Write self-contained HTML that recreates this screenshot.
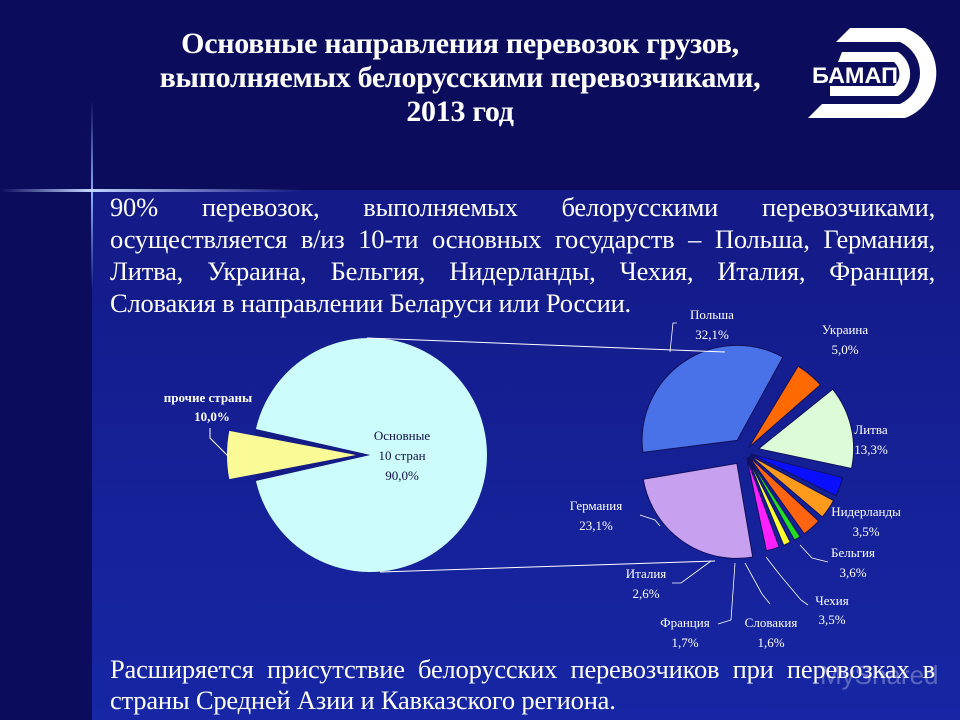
<!DOCTYPE html>
<html><head><meta charset="utf-8">
<style>
html,body{margin:0;padding:0;width:960px;height:720px;overflow:hidden;}
body{background:#0b0c5c;font-family:"Liberation Serif",serif;color:#fff;position:relative;}
#bg-lower{position:absolute;left:92px;top:190px;width:868px;height:530px;background:linear-gradient(180deg,#141a86 0%,#1626a4 100%);}
#bg-left{position:absolute;left:0;top:190px;width:92px;height:530px;background:#0b0c5c;}
.title{position:absolute;left:40px;width:840px;top:27px;text-align:center;font-weight:bold;font-size:30px;line-height:34px;letter-spacing:-0.3px;}
.para{position:absolute;left:110px;width:825px;font-size:26.5px;line-height:32px;letter-spacing:-0.2px;}
.jl{text-align:justify;text-align-last:justify;white-space:nowrap;display:block;}
.jl.last{text-align-last:left;}
svg{position:absolute;left:0;top:0;}
</style></head><body>
<div id="bg-lower"></div>
<div id="bg-left"></div>
<div style="position:absolute;left:91px;top:100px;width:2px;height:190px;background:linear-gradient(180deg,rgba(90,130,255,0),#8ab0ff 50%,rgba(90,130,255,0));"></div>
<div style="position:absolute;left:0;top:189px;width:300px;height:3px;background:linear-gradient(90deg,rgba(90,130,255,0),#c0d4ff 30%,rgba(90,130,255,0));"></div>
<div class="title">Основные направления перевозок грузов,<br>выполняемых белорусскими перевозчиками,<br>2013 год</div>
<div class="para" style="top:191px;">
<span class="jl">90% перевозок, выполняемых белорусскими перевозчиками,</span>
<span class="jl">осуществляется в/из 10-ти основных государств – Польша, Германия,</span>
<span class="jl">Литва, Украина, Бельгия, Нидерланды, Чехия, Италия, Франция,</span>
<span class="jl last">Словакия в направлении Беларуси или России.</span>
</div>
<div class="para" style="top:654px;line-height:31px;">
<span class="jl">Расширяется присутствие белорусских перевозчиков при перевозках в</span>
<span class="jl last">страны Средней Азии и Кавказского региона.</span>
</div>

<svg width="960" height="720" id="chart">
  <g id="logo">
    <path d="M850 28 L905 28 A48 48 0 0 1 905 118 L808 118 L822 104 L900 104 A34 34 0 0 0 900 42 L836 42 Z" fill="#fff"/>
    <path d="M842 52 L898 52 A26 26 0 0 1 898 96 L830 96 L830 86 L894 86 A16 16 0 0 0 894 62 L838 62 Z" fill="#fff"/>
    <text x="812" y="83" font-family="Liberation Sans,sans-serif" font-weight="bold" font-size="22" fill="#fff" textLength="86" lengthAdjust="spacingAndGlyphs">БАМАП</text>
  </g>
  <g id="left-pie"></g>
  <g id="right-pie"></g>
  <line x1="367" y1="338" x2="725" y2="352" stroke="#fff" stroke-width="1"/>
  <line x1="380" y1="572" x2="715" y2="561" stroke="#fff" stroke-width="1"/>
  <g stroke="#fff" fill="none" stroke-width="0.8">
    <polyline points="677,323 673,323 670,352"/>
    <polyline points="640,515 655,520 660,526"/>
    <polyline points="800,545 812,558 828,562"/>
    <polyline points="766,557 780,575 801,600 808,605"/>
    <polyline points="745,563 762,594 770,604"/>
    <polyline points="735,563 731,620 718,624"/>
    <polyline points="711,561 681,583 672,583"/>
  </g>
</svg>
<div style="position:absolute;left:820px;top:660px;font-family:'Liberation Sans',sans-serif;font-size:26px;color:rgba(255,255,255,0.3);">MyShared</div>

<script>
const leftLabels = ["Основные 10 стран","прочие страны"];
const leftValues = [90.0, 10.0];
const rightLabels = ["Украина","Литва","Нидерланды","Бельгия","Чехия","Словакия","Франция","Италия","Германия","Польша"];
const rightValues = [5.0,13.3,3.5,3.6,3.5,1.6,1.7,2.6,23.1,32.1];
const rightColors = ["#ff6a00","#dcfcd8","#0a10ff","#ff9a1c","#ff6410","#22dd22","#ffff30","#ff20ff","#c8a0f0","#4a72e8"];
const NS="http://www.w3.org/2000/svg";
function pt(cx,cy,r,deg){const a=(deg-90)*Math.PI/180;return [cx+r*Math.cos(a),cy+r*Math.sin(a)];}
function wedge(cx,cy,r,a0,a1){const p0=pt(cx,cy,r,a0),p1=pt(cx,cy,r,a1);const large=(a1-a0)>180?1:0;
 return `M${cx},${cy} L${p0[0]},${p0[1]} A${r},${r} 0 ${large} 1 ${p1[0]},${p1[1]} Z`;}
function txt(g,x,y,s,size,bold,fill){const t=document.createElementNS(NS,'text');t.setAttribute('x',x);t.setAttribute('y',y);
 t.setAttribute('font-size',size);t.setAttribute('fill',fill||'#fff');t.setAttribute('text-anchor','middle');
 t.setAttribute('font-family','Liberation Serif,serif');if(bold)t.setAttribute('font-weight','bold');t.textContent=s;
 
 
 g.appendChild(t);return t;}
function pct(v){return v.toFixed(1).replace('.',',')+"%";}
// left pie
(function(){const g=document.getElementById('left-pie');const cx=370,cy=455,r=117;
 const tot=leftValues.reduce((a,b)=>a+b,0);
 const otherAng=leftValues[1]/tot*360*0.6;
 const a0=270-otherAng/2, a1=270+otherAng/2;
 const main=document.createElementNS(NS,'path');main.setAttribute('d',wedge(cx,cy,r,a1+2,a0-2+360));main.setAttribute('fill','#ccfcfc');
 
 
 g.appendChild(main);
 const cut=document.createElementNS(NS,'path');cut.setAttribute('d',wedge(cx,cy,r,a0-2,a1+2));cut.setAttribute('fill','#141a86');g.appendChild(cut);
 const ox=cx-14;const oth=document.createElementNS(NS,'path');oth.setAttribute('d',wedge(ox,cy,r+12,a0,a1));oth.setAttribute('fill','#fafa96');
 
 
 g.appendChild(oth);
 txt(g,402,440,"Основные",13,false,'#10104a');txt(g,402,460,"10 стран",13,false,'#10104a');txt(g,402,480,pct(leftValues[0]),13,false,'#10104a');
 txt(g,208,402,leftLabels[1],13,true);txt(g,212,421,pct(leftValues[1]),13,true);
 const l=document.createElementNS(NS,'polyline');l.setAttribute('points','210,428 210,438 228,456');l.setAttribute('stroke','#fff');l.setAttribute('fill','none');g.appendChild(l);
})();
// right pie
(function(){const g=document.getElementById('right-pie');const cx=745,cy=452,r=95;
 const tot=rightValues.reduce((a,b)=>a+b,0);
 let a=30;
 const labelPos=[[845,334,845,354],[871,434,871,454],[866,516,866,536],[853,557,853,577],[832,605,832,624],[771,627,771,647],[685,627,685,647],[646,578,646,598],[596,510,596,530],[712,319,712,339]];
 rightValues.forEach((v,i)=>{const sw=v/tot*360;const mid=a+sw/2;const e=sw>30?14:6;const o=pt(cx,cy,e,mid);
  const p=document.createElementNS(NS,'path');p.setAttribute('d',wedge(o[0],o[1],r,a+1.2,a+sw-1.2));p.setAttribute('fill',rightColors[i]);
  p.setAttribute('stroke','#10105a');p.setAttribute('stroke-width','1');
  
  
  g.appendChild(p);
  const lp=labelPos[i];txt(g,lp[0],lp[1],rightLabels[i],13);txt(g,lp[2],lp[3],pct(v),13);
  a+=sw;});
})();
</script>
</body></html>
